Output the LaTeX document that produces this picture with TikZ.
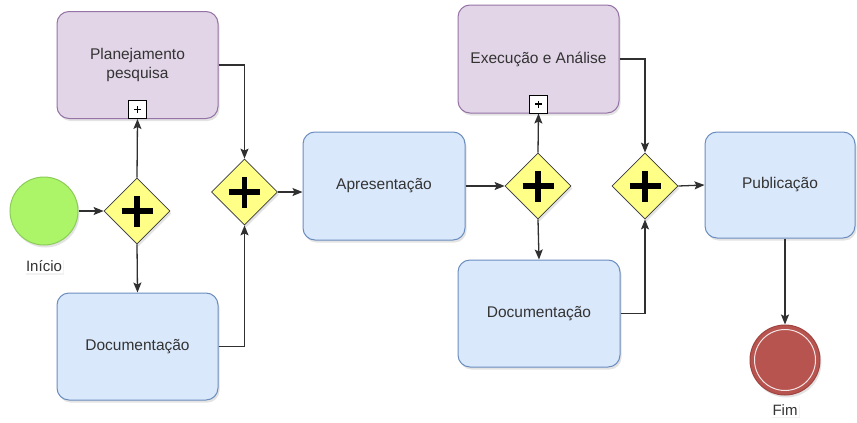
\documentclass[tikz,border=0pt]{standalone}
\usepackage{fontspec}
\setmainfont{Liberation Sans}
\usetikzlibrary{shapes.geometric,arrows.meta,shadows}
\definecolor{purfill}{HTML}{E1D5E7}
\definecolor{purline}{HTML}{9673A6}
\definecolor{bluefill}{HTML}{DAE8FC}
\definecolor{blueline}{HTML}{6C8EBF}
\definecolor{gwfill}{HTML}{FFFF88}
\definecolor{gwline}{HTML}{36393D}
\definecolor{startfill}{RGB}{172,244,104}
\definecolor{startline}{RGB}{140,205,90}
\definecolor{endfill}{HTML}{B85450}
\definecolor{endline}{HTML}{A0443F}
\definecolor{txt}{HTML}{333333}
\definecolor{edge}{HTML}{303030}
\tikzset{
  shad/.style={drop shadow={opacity=0.22,shadow xshift=1.5pt,shadow yshift=-2.5pt}},
  task/.style={rectangle,rounded corners=12pt,draw=blueline,fill=bluefill,line width=1pt,
    minimum width=161pt,minimum height=107pt,align=center,text=txt,font=\fontsize{15.5}{19}\selectfont,shad},
  subproc/.style={task,draw=purline,fill=purfill},
  gateway/.style={diamond,aspect=1,draw=gwline,fill=gwfill,line width=0.8pt,minimum width=66pt,
    minimum height=66pt,inner sep=0pt,shad,
    path picture={\draw[black,line width=5.5pt] ([xshift=-15.5pt]path picture bounding box.center) -- ([xshift=15.5pt]path picture bounding box.center);
                  \draw[black,line width=5.5pt] ([yshift=-15.5pt]path picture bounding box.center) -- ([yshift=15.5pt]path picture bounding box.center);}},
  marker/.style={rectangle,draw=black,fill=white,line width=0.9pt,minimum size=18pt,inner sep=0pt,
    path picture={\draw[black,line width=1.5pt] ([xshift=-3.5pt]path picture bounding box.center) -- ([xshift=3.5pt]path picture bounding box.center);
                  \draw[black,line width=1.5pt] ([yshift=-3.5pt]path picture bounding box.center) -- ([yshift=3.5pt]path picture bounding box.center);}},
  flow/.style={draw=edge,line width=1.3pt,-{Stealth[length=10pt,width=8pt,inset=2pt]}},
  evlabel/.style={text=txt,font=\fontsize{15}{18}\selectfont,fill=white,inner sep=1.5pt,
    drop shadow={opacity=0.1,shadow xshift=1pt,shadow yshift=-1.5pt}}
}
\begin{document}
\begin{tikzpicture}[x=1pt,y=-1pt]
\path[use as bounding box,fill=white] (0,0) rectangle (857,423);

% events
\node[circle,draw=startline,fill=startfill,line width=1pt,minimum size=68pt,inner sep=0pt,shad] (start) at (44,211) {};
\node[evlabel] (startlbl) at (44,266) {Início};
\node[circle,draw=endline,fill=endfill,line width=1pt,minimum size=70pt,inner sep=0pt,shad] (fim) at (785,360) {};
\draw[white!85!endfill,line width=1pt] (fim.center) circle (30.5pt);
\node[evlabel] (fimlbl) at (785,410) {Fim};

% tasks
\node[subproc] (plan) at (137.5,65) {Planejamento\\pesquisa};
\node[marker,anchor=south] (m1) at (plan.south) {};
\node[task] (doc1) at (137.5,346.5) {Documentação};
\node[task,minimum width=162pt,minimum height=108pt] (apr) at (384,186) {Apresentação};
\node[subproc,minimum height=108pt] (exec) at (538.5,59) {Execução e Análise};
\node[marker,anchor=south] (m2) at (exec.south) {};
\node[task,minimum width=162pt] (doc2) at (539,313.5) {Documentação};
\node[task,minimum width=150pt,minimum height=106pt] (pub) at (780,185) {Publicação};

% gateways
\node[gateway] (g1) at (137,211) {};
\node[gateway] (g2) at (244.5,192) {};
\node[gateway] (g3) at (538,186) {};
\node[gateway] (g4) at (645,186) {};

% flows
\draw[flow] (start.east) -- (g1.west);
\draw[flow] (g1.north) -- (m1.south);
\draw[flow] (g1.south) -- (doc1.north);
\draw[flow] (plan.east) -| (g2.north);
\draw[flow] (doc1.east) -| (g2.south);
\draw[flow] (g2.east) -- (g2.east -| apr.west);
\draw[flow] (apr.east) -- (g3.west);
\draw[flow] (g3.north) -- (m2.south);
\draw[flow] (g3.south) -- (doc2.north);
\draw[flow] (exec.east) -| (g4.north);
\draw[flow] (doc2.east) -| (g4.south);
\draw[flow] (g4.east) -- (pub.west);
\draw[flow] (pub.south -| fim.north) -- (fim.north);
\end{tikzpicture}
\end{document}
